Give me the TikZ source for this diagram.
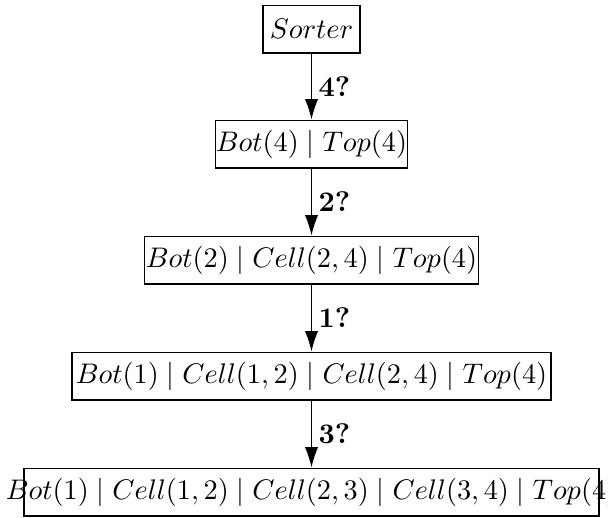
\documentclass[tikz,border=0pt]{standalone}
\usetikzlibrary{arrows.meta}

\tikzset{
  box/.style={draw, line width=0.4pt, inner sep=0pt, minimum height=16.9pt},
  step arrow/.style={-{Latex[length=7.2pt,width=4.7pt]}, line width=0.4pt},
  ask/.style={right, inner sep=2.3pt, font=\bfseries}
}

\begin{document}
\begin{tikzpicture}[x=0.353pt,y=-0.353pt]
    \useasboundingbox (0,0) rectangle (608,517);
    % the states, top to bottom
    \node[box, minimum width=34.2pt] (sorter) at (311.5,29) {$Sorter$};
    \node[box, minimum width=67.4pt] (s4) at (311.5,144) {$Bot(4) \mid Top(4)$};
    \node[box, minimum width=117.9pt] (s2) at (311.5,260) {$Bot(2) \mid Cell(2,4) \mid Top(4)$};
    \node[box, minimum width=169.1pt] (s1) at (311.5,376) {$Bot(1) \mid Cell(1,2) \mid Cell(2,4) \mid Top(4)$};
    \node[box, minimum width=203pt] (s3) at (311.5,492)
      {\makebox[0pt]{$Bot(1) \mid Cell(1,2) \mid Cell(2,3) \mid Cell(3,4) \mid Top(4)$}};
    % the questions
    \draw[step arrow] (sorter) -- node[ask]{4?} (s4);
    \draw[step arrow] (s4) -- node[ask]{2?} (s2);
    \draw[step arrow] (s2) -- node[ask]{1?} (s1);
    \draw[step arrow] (s1) -- node[ask]{3?} (s3);
\end{tikzpicture}
\end{document}
